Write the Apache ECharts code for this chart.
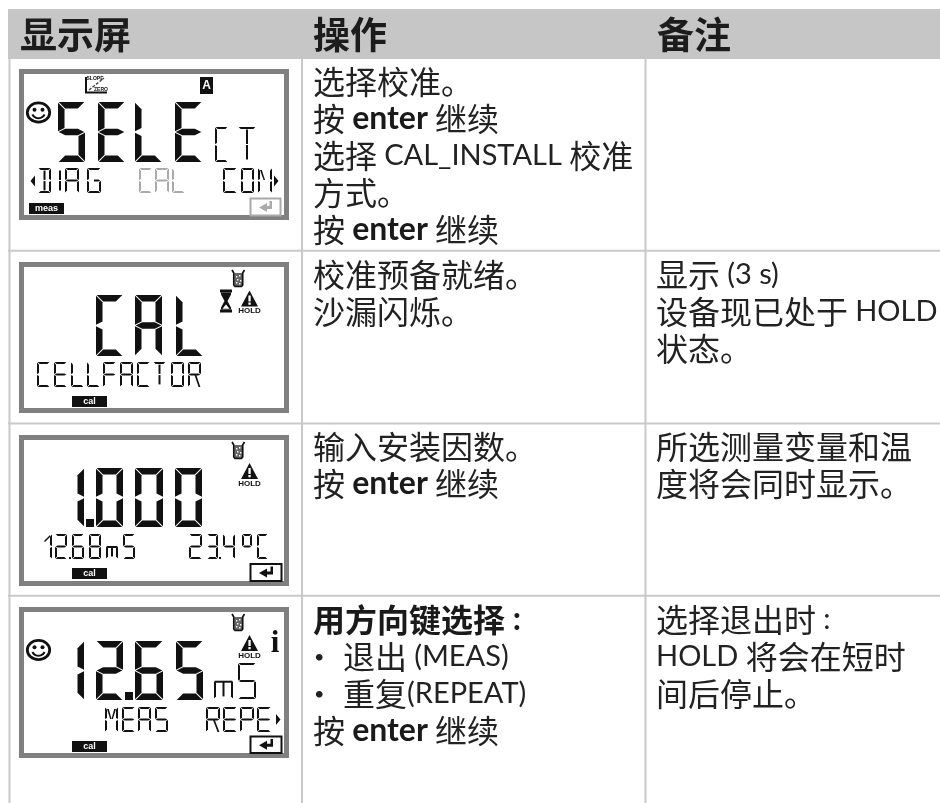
<!DOCTYPE html>
<html><head><meta charset="utf-8">
<style>html,body{margin:0;padding:0;background:#fff}#c{width:940px;height:803px}</style>
<script src="https://cdn.jsdelivr.net/npm/echarts@6/dist/echarts.min.js"></script>
</head><body><div id="c"></div>
<script>
// ---- content ----
const headers = ['显示屏', '操作', '备注'];
const actionRow1 = ['选择校准。', '按 {b|enter} 继续', '选择 CAL_INSTALL 校准', '方式。', '按 {b|enter} 继续'];
const actionRow2 = ['校准预备就绪。', '沙漏闪烁。'];
const actionRow3 = ['输入安装因数。', '按 {b|enter} 继续'];
const actionRow4 = ['{bc|用方向键选择}{b| :}', '退出 (MEAS)', '重复(REPEAT)', '按 {b|enter} 继续'];
const noteRow2 = ['显示 (3 s)', '设备现已处于 HOLD', '状态。'];
const noteRow3 = ['所选测量变量和温', '度将会同时显示。'];
const noteRow4 = ['选择退出时 :', 'HOLD 将会在短时', '间后停止。'];
const lcd1 = ['SELE', 'CT', 'DIAG', 'CAL', 'CON'];
const lcd2 = ['CAL', 'CELLFACTOR'];
const lcd3 = ['1000', '1268mS', '234°C'];
const lcd4 = ['1265', 'mS', 'MEAS', 'REPE'];
const modeLabels = ['meas', 'cal', 'cal', 'cal'];

// ---- drawing helpers ----
const els = [];
const INK = '#111', LINE = '#c9c9c9', TXT = '#222';
const CJK = '"Noto Sans CJK SC"', LAT = 'Lato';
const rect = (x, y, w, h, fill, stroke, lw) => els.push({type:'rect', shape:{x, y, width:w, height:h}, style:{fill:fill||'none', stroke:stroke||'none', lineWidth:lw||0}});
const poly = (pts, fill) => els.push({type:'polygon', shape:{points:pts}, style:{fill}});
const pline = (pts, stroke, lw, dash) => els.push({type:'polyline', shape:{points:pts}, style:{fill:'none', stroke, lineWidth:lw, lineDash:dash}});
const txt = (x, y, s, o) => els.push({type:'text', x, y, style:Object.assign({text:s, fill:TXT, align:'left', verticalAlign:'middle'}, o)});

const GLYPH = {
  S:'afgcd', E:'afged', L:'fed', C:'afed', T:'ahi', A:'abcefg', D:'abcdhi', I:'hi', G:'afedcr',
  O:'abcdef', N:'fecbj', F:'afge', R:'abfgeq', M:'fecbjk', P:'abfge',
  0:'abcdef', 1:'bc', 2:'abged', 3:'abgcd', 4:'fgbc', 5:'afgcd', 6:'afgecd', 8:'abcdefg',
  m:'ecin', '°':'abfgz'
};
function glyph(ch, x, y, w, h, t, color) {
  const g = t > 3 ? 0.7 : 0.6;
  const x1 = x + w, y1 = y + h, ym = y + h / 2, xm = x + w / 2;
  const s = {
    a: [[x+g,y],[x1-g,y],[x1-t-g,y+t],[x+t+g,y+t]],
    d: [[x+g,y1],[x1-g,y1],[x1-t-g,y1-t],[x+t+g,y1-t]],
    f: [[x,y+g],[x+t,y+t+g],[x+t,ym-t/2-g],[x,ym-g]],
    e: [[x,y1-g],[x+t,y1-t-g],[x+t,ym+t/2+g],[x,ym+g]],
    b: [[x1,y+g],[x1-t,y+t+g],[x1-t,ym-t/2-g],[x1,ym-g]],
    c: [[x1,y1-g],[x1-t,y1-t-g],[x1-t,ym+t/2+g],[x1,ym+g]],
    g: [[x+g,ym],[x+t+g,ym-t/2],[x1-t-g,ym-t/2],[x1-g,ym],[x1-t-g,ym+t/2],[x+t+g,ym+t/2]],
    r: [[xm,ym-t/2],[x1-t-g,ym-t/2],[x1-g,ym],[x1-t-g,ym+t/2],[xm,ym+t/2]],
    n: [[x+g,ym+h*0.02-t/2],[x1-g,ym+h*0.02-t/2],[x1-g,ym+h*0.02+t/2],[x+g,ym+h*0.02+t/2]],
    h: [[xm-t/2,y+t+g],[xm+t/2,y+t+g],[xm+t/2,ym-g],[xm-t/2,ym-g]],
    i: [[xm-t/2,y1-t-g],[xm+t/2,y1-t-g],[xm+t/2,ym+g],[xm-t/2,ym+g]],
    j: [[x+t,y+t],[x+t+t*0.9,y+t],[xm,ym-g],[xm-t*0.7,ym-g]],
    k: [[x1-t,y+t],[x1-t-t*0.9,y+t],[xm,ym-g],[xm+t*0.7,ym-g]],
    q: [[xm,ym+g],[xm+t*0.9,ym+g],[x1-t*0.3,y1],[x1-t*1.2,y1]],
    z: []
  };
  let spec = GLYPH[ch] || '';
  for (const c of spec) if (s[c] && s[c].length) poly(s[c], color);
}
// one run of segment characters; xs holds each character's left edge and ws its width
function run(str, xs, ws, y, h, t, color) {
  [...str].forEach((ch, i) => glyph(ch, xs[i], y, Array.isArray(ws) ? ws[i] : ws, h, t, color || INK));
}
const dot = (x, y, s) => rect(x, y, s, s, INK);

function panel(y, h) { rect(21.5, y + 2.5, 265, h - 5, '#fff', '#808080', 5); }
function modeBox(x, y, label) {
  rect(x, y, 35, 11, INK);
  txt(x + 17.5, y + 5.7, label, {fill:'#fff', align:'center', fontFamily:'Liberation Sans', fontWeight:'bold', fontSize:9});
}
function enterKey(x, y, w, h, color) {
  rect(x + .5, y + .5, w, h, '#fff', color, 2);
  const cy = y + h / 2 + 1, l = x + 9, r = x + w - 8;
  poly([[l, cy],[l + 8, cy - 4.5],[l + 8, cy - 1.5],[r - 2.5, cy - 1.5],[r - 2.5, y + 3],[r, y + 3],[r, cy + 1.5],[l + 8, cy + 1.5],[l + 8, cy + 4.5]], color);
}
function smile(cx, cy) {
  els.push({type:'ellipse', shape:{cx, cy, rx:11.2, ry:9.6}, style:{fill:'#fff', stroke:INK, lineWidth:2.8}});
  els.push({type:'circle', shape:{cx:cx-4, cy:cy-2.8, r:2}, style:{fill:INK}});
  els.push({type:'circle', shape:{cx:cx+4, cy:cy-2.8, r:2}, style:{fill:INK}});
  els.push({type:'arc', shape:{cx, cy:cy-1, r:6.8, startAngle:0.45, endAngle:Math.PI-0.45}, style:{fill:'none', stroke:INK, lineWidth:2}});
}
function arrow(x, y, dir) { poly([[x, y-5.5],[x + dir*4.5, y],[x, y+5.5]], INK); }
function beaker(x, y) {
  rect(x+2.5, y+3, 8, 13, '#666');
  pline([[x, y],[x+1.8, y+3],[x+1.8, y+15],[x+3, y+16.5],[x+9.5, y+16.5],[x+10.7, y+15],[x+10.7, y+3],[x+12.5, y]], INK, 1.7);
  [[4,6],[7,5],[5,9],[8,10],[4,12],[7,13]].forEach(p => rect(x+p[0], y+p[1], 1.4, 1.4, '#fff'));
}
function hourglass(x, y) {
  rect(x, y, 12, 3, INK); rect(x, y + 20, 12, 3, INK);
  poly([[x+1, y+3],[x+11, y+3],[x+11, y+5],[x+7.5, y+11.5],[x+11, y+18],[x+11, y+20],[x+1, y+20],[x+1, y+18],[x+4.5, y+11.5],[x+1, y+5]], INK);
  poly([[x+6, y+15],[x+9.5, y+19.2],[x+2.5, y+19.2]], '#fff');
}
function hold(x, y) {
  poly([[x+10, y],[x+18.5, y+16],[x+1.5, y+16]], INK);
  rect(x+8.9, y+5, 2.3, 6, '#fff'); rect(x+8.9, y+12, 2.3, 2.3, '#fff');
  txt(x+10, y+20.5, 'HOLD', {align:'center', fill:INK, fontFamily:'Liberation Sans', fontWeight:'bold', fontSize:8});
}
function textBlock(x, lines, ys, indented) {
  lines.forEach((s, i) => {
    const tagged = s.replace(/\{\w+\|[^}]*\}|[A-Za-z0-9_():.][A-Za-z0-9_():. ]*/g, m => m[0] === '{' ? m : '{l|' + m + '}');
    const bullet = indented && indented.indexOf(i) >= 0;
    if (bullet) txt(x + 1, ys[i], '•', {fontFamily:LAT, fontSize:18});
    txt(bullet ? x + 30 : x, ys[i], tagged, {
      fontFamily:CJK, fontSize:32, lineHeight:37,
      rich:{
        l:{fontFamily:LAT, fontSize:29, fill:TXT, lineHeight:37},
        b:{fontFamily:LAT, fontWeight:'bold', fontSize:32, fill:'#1a1a1a', lineHeight:37},
        bc:{fontFamily:CJK, fontWeight:'bold', fontSize:32, fill:'#1a1a1a', lineHeight:37}
      }
    });
  });
}

// ---- table frame ----
rect(8, 9, 932, 50, '#c6c6c6');
[9.5, 302, 645.5].forEach(x => rect(x - 1, 59, 2, 744, LINE));
[249.8, 422.5, 594.8].forEach(y => rect(8, y, 932, 2, LINE));
[[20, 0], [313, 1], [657, 2]].forEach(([x, i]) => txt(x, 35, headers[i], {fontFamily:CJK, fontWeight:'bold', fontSize:37, fill:'#1c1c1c'}));

// ---- text columns ----
textBlock(313, actionRow1, [82, 119, 156, 193, 230]);
textBlock(313, actionRow2, [275, 312]);
textBlock(313, actionRow3, [447, 484]);
textBlock(313, actionRow4, [620, 657, 694, 731], [1, 2]);
textBlock(656, noteRow2, [275, 312, 349]);
textBlock(656, noteRow3, [447, 484]);
textBlock(656, noteRow4, [620, 657, 694]);

// ---- LCD 1 ----
panel(69, 151);
run(lcd1[0], [58, 98, 135, 175], 27, 102, 60, 6.5);
run(lcd1[1], [215, 238], [13, 18], 127, 35, 2);
run(lcd1[2], [38, 58, 65, 87], [13, 4, 14, 14], 168, 25, 2);
run(lcd1[3], [139, 155, 172], [13, 14, 13], 168, 25, 2, '#aaa');
run(lcd1[4], [223, 241, 258], [14, 13, 14], 168, 25, 2);
arrow(35, 181, -1); arrow(274, 181, 1);
smile(38.5, 112.5);
pline([[86, 77],[86, 92.5],[107, 92.5]], INK, 2);
pline([[89, 90],[104, 78]], '#444', 1.4, [3, 1.5]);
txt(95, 79, 'SLOPE', {fontFamily:'Liberation Sans', fontSize:5, fontWeight:'bold', fill:INK, align:'center'});
txt(101, 90, 'ZERO', {fontFamily:'Liberation Sans', fontSize:5, fontWeight:'bold', fill:INK, align:'center'});
rect(200, 77, 13, 17, INK);
txt(206.5, 86, 'A', {fill:'#fff', align:'center', fontFamily:'Liberation Sans', fontWeight:'bold', fontSize:12});
modeBox(29, 203, modeLabels[0]);
enterKey(250, 198, 30, 17, '#aaa');

// ---- LCD 2 ----
panel(262, 151);
run(lcd2[0], [96, 135, 176], 27, 295, 61, 6.5);
run(lcd2[1], [37, 54, 71, 87, 103, 120, 137, 153, 171, 188], 13, 362, 25, 2);
beaker(232, 270);
hourglass(220, 289.5);
hold(239.5, 290.5);
modeBox(72, 396, modeLabels[1]);

// ---- LCD 3 ----
panel(435, 151);
run(lcd3[0], [76, 96, 135, 175], [8, 27, 28, 27], 468, 59, 6.5);
dot(86, 519, 8);
run(lcd3[1], [46, 55, 72, 89, 106, 123], [6, 12, 12, 12, 12, 12], 534, 25, 2);
poly([[44, 541],[50, 535],[50, 537],[45, 542]], INK);
dot(69, 557, 2);
run(lcd3[2], [189, 207, 223, 242, 257], [13, 11, 12, 10, 11], 534, 25, 2);
dot(219, 557, 2);
beaker(232, 442);
hold(239.5, 463);
modeBox(72, 568, modeLabels[2]);
enterKey(250, 563.5, 31, 17, INK);

// ---- LCD 4 ----
panel(607, 151);
run(lcd4[0], [76, 96, 135, 176], [8, 27, 28, 27], 641, 59, 6.5);
dot(125, 692, 8);
run(lcd4[1], [214, 238], [19, 18], 663, 36, 2);
run(lcd4[2], [105, 122, 138, 155], 13, 707, 25, 2);
run(lcd4[3], [206, 223, 240, 257], 14, 707, 25, 2);
arrow(276, 719.5, 1);
smile(38.5, 650);
beaker(232, 614);
hold(239.5, 635);
txt(275, 644, 'i', {fill:INK, align:'center', fontFamily:'Liberation Serif', fontWeight:'bold', fontSize:31});
modeBox(72, 741, modeLabels[3]);
enterKey(250, 736, 31, 16.5, INK);

const chart = echarts.init(document.getElementById('c'), null, {renderer:'canvas'});
chart.setOption({animation:false, backgroundColor:'#fff', graphic:{elements:els.map(e => Object.assign({silent:true}, e))}});
</script></body></html>
